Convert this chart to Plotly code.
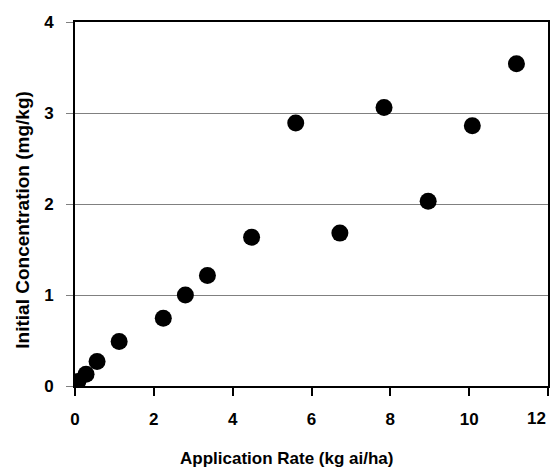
import plotly.graph_objects as go

app_rate = [0.07, 0.28, 0.56, 1.12, 2.24, 2.8, 3.36, 4.48, 5.6, 6.72, 7.84, 8.96, 10.08, 11.2]
init_conc = [0.05, 0.13, 0.27, 0.49, 0.745, 1.0, 1.215, 1.635, 2.89, 1.68, 3.06, 2.03, 2.86, 3.54]
x_ticks = [0, 2, 4, 6, 8, 10, 12]
x_tick_text = ["0", "2", "4", "6", "8", "10", "12"]
y_ticks = [0, 1, 2, 3, 4]
y_tick_text = ["0", "1", "2", "3", "4"]
x_title = "Application Rate (kg ai/ha)"
y_title = "Initial Concentration (mg/kg)"

FONT = "Liberation Sans, Arial, sans-serif"
TICK_FS = 17

fig = go.Figure()
fig.add_trace(go.Scatter(
    x=app_rate, y=init_conc, mode="markers",
    marker=dict(color="black", size=17, line=dict(width=0)),
    showlegend=False,
))

# the last x tick label sits flush with the right edge (as in the reference),
# so it is drawn as an annotation anchored at its tick value
axis_ticktext = x_tick_text[:-1] + [""]
last_label = dict(text=x_tick_text[-1], x=x_ticks[-1], xref="x",
                  y=(386 - 419) / 364, yref="paper",
                  xanchor="right", yanchor="middle", showarrow=False,
                  font=dict(family=FONT, size=TICK_FS, color="black", weight="bold"))

# page has an 8px body margin, so the figure is sized/margined to compensate
fig.update_layout(
    width=552, height=462,
    margin=dict(l=67, r=12, t=14, b=84, autoexpand=False),
    paper_bgcolor="white", plot_bgcolor="white",
    font=dict(family=FONT, size=TICK_FS, color="black"),
    xaxis=dict(
        range=[0, 12], tickvals=x_ticks, ticktext=axis_ticktext,
        showgrid=False, zeroline=False, automargin=False,
        showline=True, linecolor="black", linewidth=2, mirror=True,
        ticks="outside", ticklen=8, tickwidth=2, tickcolor="black",
        tickfont=dict(family=FONT, size=TICK_FS, color="black", weight="bold"),
        ticklabelstandoff=9,
    ),
    yaxis=dict(
        range=[0, 4], tickvals=y_ticks, ticktext=y_tick_text,
        showgrid=True, gridcolor="#808080", gridwidth=1, zeroline=False,
        automargin=False,
        showline=True, linecolor="black", linewidth=2, mirror=True,
        ticks="outside", ticklen=7, tickwidth=1, tickcolor="#808080",
        tickfont=dict(family=FONT, size=TICK_FS, color="black", weight="bold"),
        ticklabelstandoff=9,
    ),
    annotations=[
        last_label,
        dict(text=x_title, xref="paper", yref="paper",
             x=(178 - 75) / 473, y=(386 - 458) / 364,
             xanchor="left", yanchor="middle", showarrow=False,
             font=dict(family=FONT, size=17, color="black", weight="bold")),
        dict(text=y_title, xref="paper", yref="paper",
             x=(21.7 - 75) / 473, y=(386 - 220) / 364,
             xanchor="center", yanchor="middle", textangle=-90, showarrow=False,
             font=dict(family=FONT, size=19, color="black", weight="bold")),
    ],
)

fig.write_html("out.html")
